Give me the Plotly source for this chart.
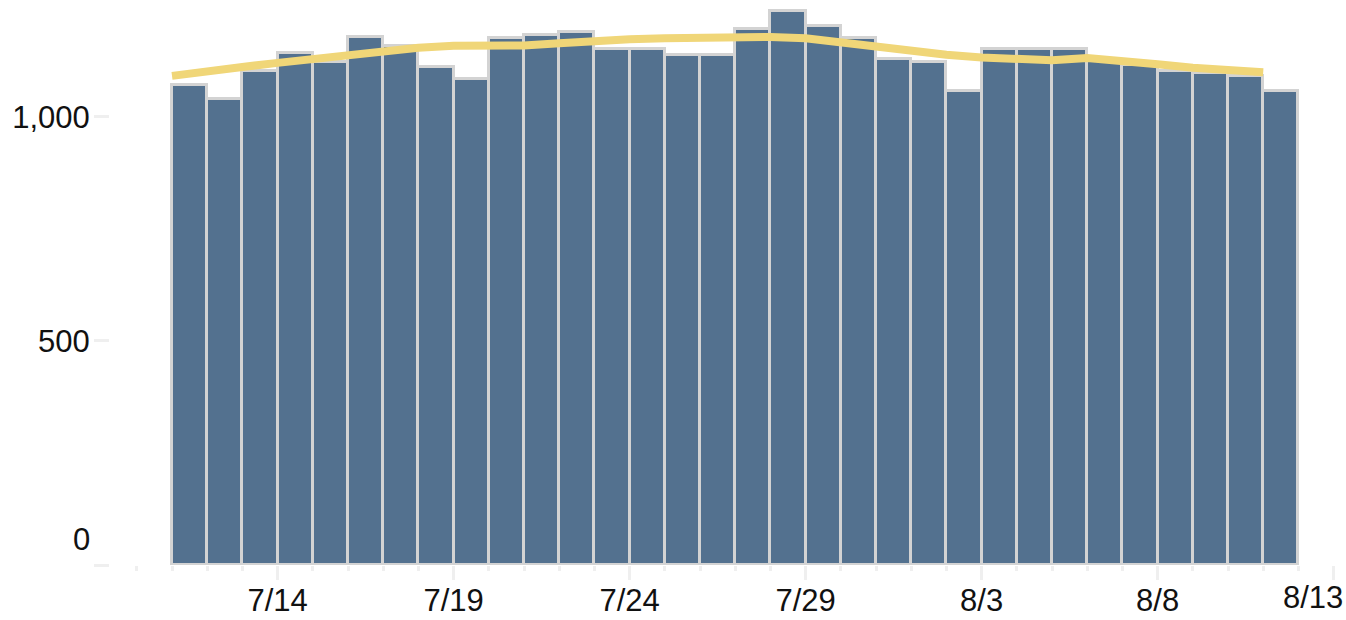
import pandas as pd
import plotly.graph_objects as go

# ---- data ----
start_date = "2023-07-11"
daily_counts = [1070, 1039, 1102, 1143, 1123, 1177, 1157, 1110, 1083, 1176,
                1183, 1189, 1150, 1150, 1137, 1137, 1196, 1235, 1203, 1176,
                1129, 1123, 1057, 1150, 1150, 1150, 1126, 1116, 1103, 1097,
                1090, 1057]
trend_values = [1091, 1099, 1111, 1120, 1128, 1138, 1147, 1154, 1158, 1158,
                1159, 1164, 1170, 1173, 1175, 1177, 1180, 1178, 1175, 1165,
                1158, 1147, 1138, 1132, 1128, 1126, 1131, 1126, 1117, 1109,
                1106, 1099]
tick_dates = ["2023-07-14", "2023-07-19", "2023-07-24", "2023-07-29",
              "2023-08-03", "2023-08-08", "2023-08-13"]
tick_labels = ["7/14", "7/19", "7/24", "7/29", "8/3", "8/8", "8/13"]
y_tick_values = [0, 500, 1000]
y_tick_labels = ["0", "500", "1,000"]

days = pd.date_range(start_date, periods=len(daily_counts), freq="D")
bar_x = days + pd.Timedelta(hours=12)

BAR_COLOR = "#53718F"
EDGE_COLOR = "#D3D3D3"
LINE_COLOR = "#F0D678"
TICK_COLOR = "#EFEFEF"
TEXT_COLOR = "#111111"
FONT = "Liberation Sans, Arial, sans-serif"

fig = go.Figure()
fig.add_trace(go.Bar(
    x=bar_x, y=daily_counts,
    marker=dict(color=BAR_COLOR, line=dict(color=EDGE_COLOR, width=3)),
    hoverinfo="x+y", showlegend=False,
))
fig.add_trace(go.Scatter(
    x=days, y=trend_values, mode="lines",
    line=dict(color=LINE_COLOR, width=8),
    showlegend=False,
))

x_left = pd.Timestamp(start_date) - pd.Timedelta(days=62 / 35.2)
x_right = pd.Timestamp(start_date) + pd.Timedelta(days=1174 / 35.2)

fig.update_layout(
    width=1346, height=620,
    margin=dict(l=110, r=0, t=0, b=55),
    paper_bgcolor="white", plot_bgcolor="white",
    bargap=0,
    font=dict(family=FONT, size=31, color=TEXT_COLOR),
    xaxis=dict(
        type="date",
        range=[x_left, x_right],
        tickvals=tick_dates,
        ticktext=tick_labels[:-1] + [""],
        ticks="outside", ticklen=14, tickwidth=3, tickcolor=TICK_COLOR,
        minor=dict(ticks="outside", ticklen=5, tickwidth=3, tickcolor=TICK_COLOR,
                   dtick=86400000, tick0=start_date),
        showgrid=False, showline=False, zeroline=False,
        ticklabelstandoff=-6,
        automargin=False,
    ),
    yaxis=dict(
        range=[0, 1260.3],
        tickvals=y_tick_values,
        ticktext=[""] + y_tick_labels[1:],
        ticks="outside", ticklen=15, tickwidth=3, tickcolor=TICK_COLOR,
        showgrid=False, showline=False, zeroline=False,
        ticklabelstandoff=-2,
        automargin=False,
    ),
    annotations=[
        dict(text=y_tick_labels[0], xref="paper", yref="y", x=0, y=0,
             xanchor="right", yanchor="middle", xshift=-18, yshift=26,
             showarrow=False, font=dict(family=FONT, size=31, color=TEXT_COLOR)),
        dict(text=tick_labels[-1], xref="paper", yref="paper", x=1, y=0,
             xanchor="right", yanchor="top", xshift=-1, yshift=-13,
             showarrow=False, font=dict(family=FONT, size=31, color=TEXT_COLOR)),
    ],
)

fig.write_html(
    "out.html",
    config={"displayModeBar": False},
    post_script="document.body.style.margin='0';document.body.style.overflow='hidden';",
)
